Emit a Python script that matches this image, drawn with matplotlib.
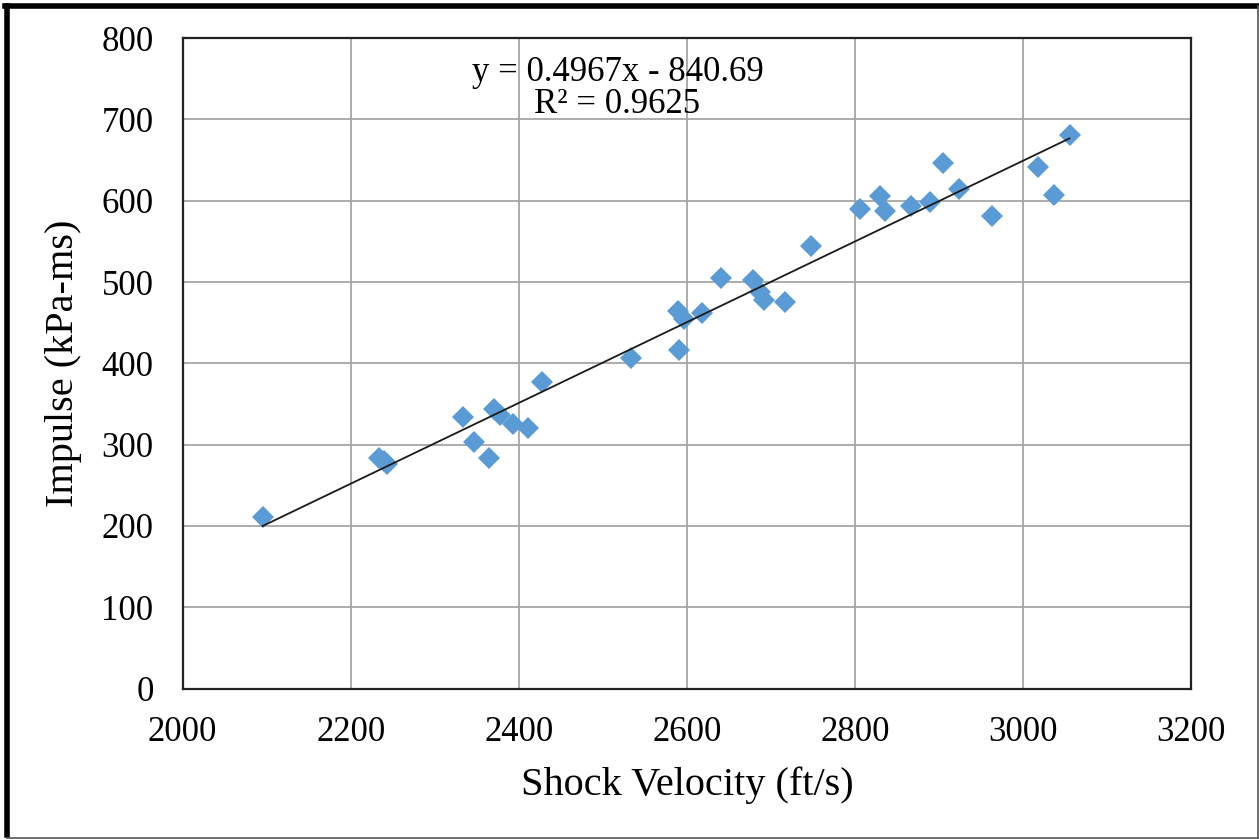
#!/usr/bin/env python3
"""
Impulse vs shock velocity with linear trendline
"""

import numpy as np
import matplotlib.pyplot as plt
from matplotlib.lines import Line2D

# Data
shock_velocity = [2095, 2233, 2240, 2243, 2333, 2347, 2365, 2370, 2377, 2393, 2411,
                  2427, 2533, 2589, 2596, 2590, 2618, 2640, 2679, 2687, 2691, 2716,
                  2747, 2806, 2829, 2835, 2867, 2889, 2905, 2923, 2963, 3017, 3036, 3055]
impulse = [211, 284, 280, 276, 334, 303, 284, 344, 336, 325, 321,
           377, 407, 464, 454, 416, 462, 505, 503, 488, 478, 476,
           544, 590, 606, 588, 594, 599, 646, 614, 581, 641, 607, 681]

slope = 0.4967
intercept = -840.69
r_squared = 0.9625

plt.rcParams['font.family'] = ['Liberation Serif', 'DejaVu Serif']

fig = plt.figure(figsize=(12.59, 8.39), dpi=100)
ax = fig.add_axes([0.1451, 0.1793, 0.8012, 0.7752])

ax.plot(shock_velocity, impulse, 'D', color='#5B9BD5', markersize=11.5,
        markeredgewidth=0, zorder=3)

# Trendline over the data range
xfit = np.array([min(shock_velocity), max(shock_velocity)])
ax.plot(xfit, slope * xfit + intercept, color='#1a1a1a', linewidth=1.3, zorder=4)

ax.text(0.431, 0.972, f'y = {slope}x - {abs(intercept)}\nR² = {r_squared}',
        transform=ax.transAxes, ha='center', va='top', fontsize=25,
        linespacing=0.95)

ax.set_xlim(2000, 3200)
ax.set_ylim(0, 800)
ax.set_xticks(np.arange(2000, 3201, 200))
ax.set_yticks(np.arange(0, 801, 100))
ax.tick_params(axis='x', length=0, labelsize=25, pad=20)
ax.tick_params(axis='y', length=0, labelsize=25, pad=21)
ax.grid(True, color='#a6a6a6', linewidth=1.3)
ax.set_axisbelow(True)
for s in ax.spines.values():
    s.set_color('#222222')
    s.set_linewidth(1.6)

ax.set_xlabel('Shock Velocity (ft/s)', fontsize=29, labelpad=12)
ax.set_ylabel('Impulse (kPa-ms)', fontsize=29, labelpad=14)

# Outer frame: heavy left/top, light right/bottom
W, H = 1259, 839
frame = [((7 / W, 7 / W), (4 / H, 1 - 6 / H), 'black', 4.0),
         ((5 / W, 1 - 1 / W), (1 - 6 / H, 1 - 6 / H), 'black', 4.0),
         ((1 - 1.5 / W, 1 - 1.5 / W), (1.5 / H, 1 - 6 / H), '#555555', 1.2),
         ((7 / W, 1 - 1.5 / W), (1.5 / H, 1.5 / H), '#555555', 1.2)]
for xs, ys, c, lw in frame:
    fig.lines.append(Line2D(xs, ys, transform=fig.transFigure, color=c, linewidth=lw))

fig.savefig('out.png', dpi=100)
